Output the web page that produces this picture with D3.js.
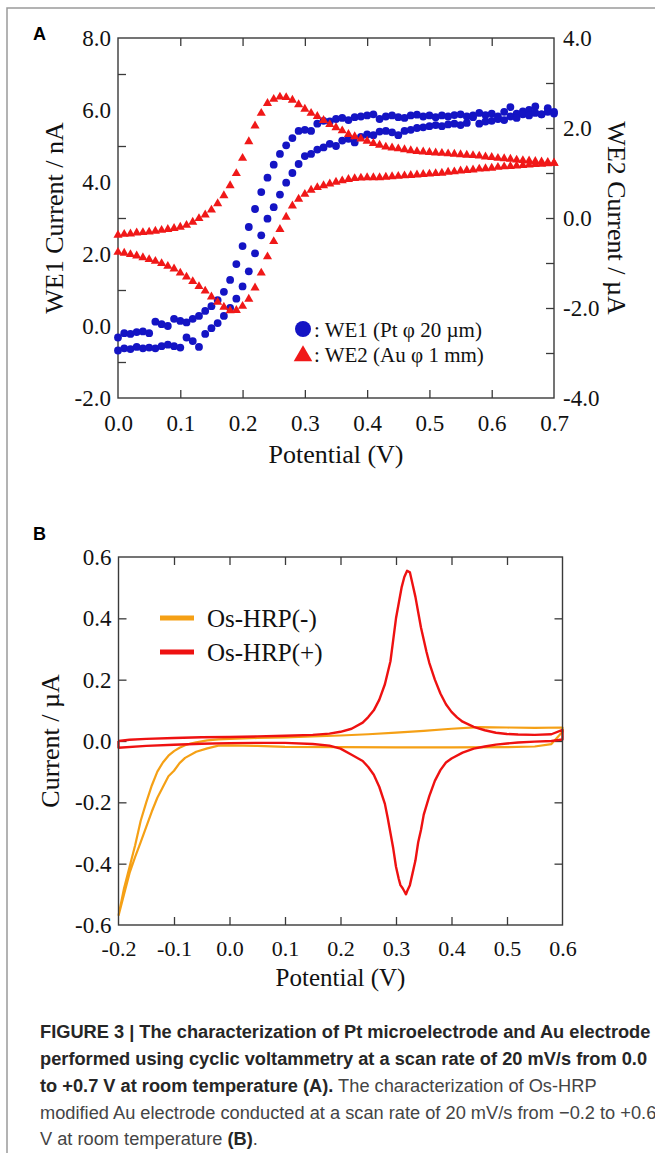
<!DOCTYPE html>
<html><head><meta charset="utf-8">
<script src="https://cdn.jsdelivr.net/npm/d3@7/dist/d3.min.js"></script>
<style>body{margin:0;background:#fff}svg{display:block}</style>
</head><body><div id="chart"></div>
<script>
// ---------- Panel A data ----------
const aPotential = [0.00,0.01,0.02,0.03,0.04,0.05,0.06,0.07,0.08,0.09,0.10,0.11,0.12,0.13,0.14,0.15,0.16,0.17,0.18,0.19,0.20,0.21,0.22,0.23,0.24,0.25,0.26,0.27,0.28,0.29,0.30,0.31,0.32,0.33,0.34,0.35,0.36,0.37,0.38,0.39,0.40,0.41,0.42,0.43,0.44,0.45,0.46,0.47,0.48,0.49,0.50,0.51,0.52,0.53,0.54,0.55,0.56,0.57,0.58,0.59,0.60,0.61,0.62,0.63,0.64,0.65,0.66,0.67,0.68,0.69,0.70];
const we1Upper = [-0.32,-0.20,-0.22,-0.17,-0.15,-0.20,0.12,0.05,0.00,0.20,0.14,0.10,0.20,0.28,0.42,0.55,0.72,0.95,1.28,1.72,2.22,2.75,3.25,3.72,4.12,4.48,4.78,5.02,5.22,5.42,5.45,5.42,5.62,5.70,5.68,5.75,5.78,5.72,5.80,5.82,5.85,5.88,5.75,5.82,5.85,5.80,5.78,5.85,5.87,5.82,5.85,5.80,5.85,5.82,5.86,5.88,5.82,5.85,5.92,5.86,5.90,5.82,5.95,6.08,5.90,5.96,6.00,6.10,5.88,6.05,5.95];
const we1Lower = [-0.68,-0.62,-0.64,-0.58,-0.62,-0.60,-0.62,-0.56,-0.52,-0.56,-0.60,-0.32,-0.42,-0.58,-0.22,-0.06,0.08,0.28,0.50,0.76,1.10,1.52,2.02,2.52,2.98,3.30,3.65,3.98,4.25,4.50,4.72,4.78,4.90,4.96,5.06,5.00,5.15,5.20,5.10,5.25,5.32,5.30,5.40,5.42,5.38,5.30,5.42,5.45,5.50,5.52,5.55,5.58,5.55,5.60,5.62,5.58,5.64,5.80,5.62,5.68,5.70,5.75,5.72,5.82,5.78,5.88,5.85,5.92,5.88,5.95,5.90];
const we2Upper = [-0.38,-0.36,-0.35,-0.33,-0.32,-0.31,-0.29,-0.27,-0.25,-0.23,-0.20,-0.16,-0.09,-0.01,0.07,0.18,0.32,0.50,0.72,0.99,1.33,1.70,2.05,2.33,2.55,2.64,2.69,2.68,2.62,2.52,2.42,2.33,2.26,2.17,2.08,2.01,1.94,1.86,1.81,1.76,1.71,1.66,1.62,1.58,1.56,1.54,1.52,1.50,1.48,1.47,1.46,1.45,1.44,1.43,1.42,1.41,1.40,1.39,1.38,1.36,1.35,1.33,1.32,1.31,1.29,1.28,1.27,1.26,1.25,1.24,1.22];
const we2Lower = [-0.76,-0.78,-0.81,-0.84,-0.88,-0.92,-0.96,-1.01,-1.07,-1.13,-1.22,-1.31,-1.41,-1.52,-1.62,-1.75,-1.87,-1.98,-2.06,-2.05,-1.96,-1.80,-1.55,-1.22,-0.86,-0.52,-0.25,0.02,0.27,0.42,0.53,0.62,0.68,0.72,0.76,0.80,0.83,0.86,0.88,0.89,0.90,0.90,0.90,0.91,0.92,0.93,0.94,0.95,0.96,0.97,0.98,0.99,1.00,1.02,1.03,1.05,1.06,1.07,1.09,1.10,1.11,1.13,1.14,1.15,1.16,1.17,1.18,1.19,1.20,1.21,1.22];
const aXTickLabels = [0.0,0.1,0.2,0.3,0.4,0.5,0.6,0.7];
const aLeftLabels = [8,6,4,2,0,-2];
const aLeftTicks = [7,5,3,1,-1];
const aRightLabels = [4,2,0,-2,-4];
const aRightTicks = [3,2,1,0,-1,-2,-3];
const aLegend = [": WE1 (Pt \u03c6 20 \u00b5m)", ": WE2 (Au \u03c6 1 mm)"];

// ---------- Panel B data ----------
const osMinusPotential = [-0.20,-0.19,-0.18,-0.17,-0.16,-0.15,-0.14,-0.13,-0.12,-0.11,-0.10,-0.09,-0.08,-0.07,-0.06,-0.05,-0.04,-0.02,0.00,0.05,0.10,0.15,0.20,0.25,0.30,0.35,0.40,0.45,0.50,0.55,0.60,
  0.60,0.58,0.55,0.50,0.40,0.30,0.20,0.10,0.05,0.00,-0.02,-0.04,-0.06,-0.08,-0.09,-0.10,-0.11,-0.12,-0.13,-0.14,-0.15,-0.16,-0.17,-0.18,-0.19,-0.20];
const osMinusCurrent = [-0.57,-0.48,-0.41,-0.34,-0.26,-0.20,-0.145,-0.10,-0.07,-0.048,-0.033,-0.022,-0.014,-0.008,-0.004,-0.001,0.002,0.005,0.007,0.010,0.012,0.015,0.018,0.022,0.027,0.033,0.040,0.045,0.044,0.043,0.044,
  0.030,-0.010,-0.018,-0.020,-0.021,-0.021,-0.020,-0.019,-0.016,-0.014,-0.015,-0.024,-0.035,-0.055,-0.072,-0.097,-0.115,-0.150,-0.185,-0.230,-0.280,-0.330,-0.378,-0.430,-0.500,-0.57];
const osPlusPotential = [-0.20,-0.18,-0.15,-0.10,-0.05,0.00,0.05,0.10,0.15,0.18,0.20,0.22,0.24,0.25,0.26,0.27,0.28,0.29,0.295,0.30,0.305,0.31,0.315,0.32,0.325,0.33,0.335,0.34,0.345,0.35,0.355,0.36,0.37,0.38,0.39,0.40,0.41,0.42,0.44,0.46,0.48,0.50,0.52,0.55,0.58,0.60,
  0.60,0.58,0.55,0.52,0.50,0.48,0.46,0.44,0.42,0.40,0.39,0.38,0.37,0.36,0.35,0.345,0.34,0.335,0.33,0.325,0.32,0.318,0.315,0.312,0.308,0.305,0.30,0.295,0.29,0.285,0.28,0.27,0.26,0.25,0.24,0.22,0.20,0.18,0.15,0.10,0.05,0.00,-0.05,-0.10,-0.15,-0.20,-0.20];
const osPlusCurrent = [0.000,0.004,0.007,0.010,0.012,0.013,0.015,0.017,0.020,0.024,0.030,0.040,0.060,0.078,0.100,0.135,0.185,0.26,0.33,0.40,0.45,0.50,0.535,0.555,0.55,0.51,0.47,0.42,0.37,0.33,0.29,0.255,0.20,0.155,0.12,0.095,0.077,0.063,0.046,0.035,0.027,0.023,0.021,0.020,0.022,0.036,
  0.005,0.000,-0.002,-0.005,-0.008,-0.012,-0.018,-0.025,-0.038,-0.057,-0.070,-0.095,-0.13,-0.18,-0.24,-0.29,-0.33,-0.39,-0.43,-0.47,-0.49,-0.50,-0.49,-0.48,-0.47,-0.45,-0.41,-0.35,-0.30,-0.25,-0.205,-0.15,-0.11,-0.085,-0.065,-0.045,-0.025,-0.015,-0.010,-0.006,-0.006,-0.007,-0.009,-0.012,-0.016,-0.022,0.000];
const bXTickLabels = [-0.2,-0.1,0.0,0.1,0.2,0.3,0.4,0.5,0.6];
const bXTicks = [-0.1,0.0,0.1,0.2,0.3,0.4,0.5];
const bYTickLabels = [0.6,0.4,0.2,0.0,-0.2,-0.4,-0.6];
const bYTicks = [0.4,0.2,0.0,-0.2,-0.4];
const bLegend = ["Os-HRP(-)","Os-HRP(+)"];

const captionLines = [
  [["FIGURE 3 | The characterization of Pt microelectrode and Au electrode", true]],
  [["performed using cyclic voltammetry at a scan rate of 20 mV/s from 0.0", true]],
  [["to +0.7 V at room temperature (A).", true], [" The characterization of Os-HRP", false]],
  [["modified Au electrode conducted at a scan rate of 20 mV/s from \u22120.2 to +0.6", false]],
  [["V at room temperature ", false], ["(B)", true], [".", false]]
];

// ---------- Drawing ----------
const W = 655, H = 1153;
const serif = "'Liberation Serif','Times New Roman',serif";
const sans = "'Liberation Sans',Arial,sans-serif";
const blue = "#1414c4", red = "#f01818", orange = "#f5a015", red2 = "#ee1111";
const axisColor = "#3a3a3a";
const f1 = d => (d < 0 ? "-" : "") + Math.abs(d).toFixed(1);

const svg = d3.select("#chart").append("svg").attr("width", W).attr("height", H);
svg.append("rect").attr("width", W).attr("height", H).attr("fill", "#fff");
svg.append("rect").attr("x", 7).attr("y", 8).attr("width", 720).attr("height", 1300)
  .attr("fill", "none").attr("stroke", "#9a9a9a").attr("stroke-width", 1.5);

function styleAxis(g, size) {
  g.select(".domain").remove();
  g.selectAll(".tick line").attr("stroke", axisColor).attr("stroke-width", 1.3);
  g.selectAll("text").attr("font-family", serif).attr("font-size", size).attr("fill", "#111");
}

// ===== Panel A =====
const ax = {l: 118, r: 554, t: 38, b: 398};
const xA = d3.scaleLinear().domain([0, 0.7]).range([ax.l, ax.r]);
const yAL = d3.scaleLinear().domain([-2, 8]).range([ax.b, ax.t]);
const yAR = d3.scaleLinear().domain([-4, 4]).range([ax.b, ax.t]);

svg.append("text").attr("x", 33).attr("y", 40).text("A")
  .attr("font-family", sans).attr("font-weight", "bold").attr("font-size", 18);

const gA = svg.append("g");
gA.append("g").attr("transform", `translate(0,${ax.b})`)
  .call(d3.axisBottom(xA).tickValues(aXTickLabels.slice(1, -1)).tickSizeInner(-8).tickSizeOuter(0).tickFormat(""))
  .call(g => styleAxis(g, 23));
gA.append("g").attr("transform", `translate(0,${ax.b})`)
  .call(d3.axisBottom(xA).tickValues(aXTickLabels).tickSize(0).tickPadding(0).tickFormat(f1))
  .call(g => styleAxis(g, 23))
  .call(g => g.selectAll("text").attr("y", 25).attr("dy", "0.35em"));
gA.append("g").attr("transform", `translate(0,${ax.t})`)
  .call(d3.axisTop(xA).tickValues(aXTickLabels.slice(1, -1)).tickSizeInner(-8).tickSizeOuter(0).tickFormat(""))
  .call(g => styleAxis(g, 23));
gA.append("g").attr("transform", `translate(${ax.l},0)`)
  .call(d3.axisLeft(yAL).tickValues(aLeftTicks).tickSizeInner(-8).tickSizeOuter(0).tickFormat(""))
  .call(g => styleAxis(g, 23));
gA.append("g").attr("transform", `translate(${ax.l},0)`)
  .call(d3.axisLeft(yAL).tickValues(aLeftLabels).tickSize(0).tickPadding(7).tickFormat(f1))
  .call(g => styleAxis(g, 23));
gA.append("g").attr("transform", `translate(${ax.r},0)`)
  .call(d3.axisRight(yAR).tickValues(aRightTicks).tickSizeInner(-8).tickSizeOuter(0).tickFormat(""))
  .call(g => styleAxis(g, 23));
gA.append("g").attr("transform", `translate(${ax.r},0)`)
  .call(d3.axisRight(yAR).tickValues(aRightLabels).tickSize(0).tickPadding(9).tickFormat(f1))
  .call(g => styleAxis(g, 23));
gA.append("rect").attr("x", ax.l).attr("y", ax.t).attr("width", ax.r - ax.l).attr("height", ax.b - ax.t)
  .attr("fill", "none").attr("stroke", axisColor).attr("stroke-width", 1.4);

// markers
const we1Pts = aPotential.map((p, i) => [p, we1Upper[i]]).concat(aPotential.map((p, i) => [p, we1Lower[i]]));
gA.append("g").selectAll("circle").data(we1Pts).join("circle")
  .attr("cx", d => xA(d[0])).attr("cy", d => yAL(d[1])).attr("r", 3.9).attr("fill", blue);
const we2Pts = aPotential.map((p, i) => [p, we2Upper[i]]).concat(aPotential.map((p, i) => [p, we2Lower[i]]));
const tri = d3.symbol(d3.symbolTriangle, 36);
gA.append("g").selectAll("path").data(we2Pts).join("path")
  .attr("d", tri).attr("transform", d => `translate(${xA(d[0])},${yAR(d[1])})`).attr("fill", red);

// legend A
const lgA = gA.append("g");
lgA.append("circle").attr("cx", 303).attr("cy", 329).attr("r", 8).attr("fill", blue);
lgA.append("path").attr("d", d3.symbol(d3.symbolTriangle, 150)).attr("transform", "translate(303,356)").attr("fill", red);
lgA.selectAll("text").data(aLegend).join("text")
  .attr("x", 314).attr("y", (d, i) => 330 + i * 25).attr("dy", "0.35em").text(d => d)
  .attr("font-family", serif).attr("font-size", 21).attr("fill", "#111");

// titles A
svg.append("text").attr("transform", `translate(54,${(ax.t + ax.b) / 2}) rotate(-90)`)
  .attr("text-anchor", "middle").attr("dy", "0.35em").text("WE1 Current / nA")
  .attr("font-family", serif).attr("font-size", 26).attr("fill", "#111");
svg.append("text").attr("transform", `translate(617,${(ax.t + ax.b) / 2}) rotate(90)`)
  .attr("text-anchor", "middle").attr("dy", "0.35em").text("WE2 Current / \u00b5A")
  .attr("font-family", serif).attr("font-size", 26).attr("fill", "#111");
svg.append("text").attr("x", (ax.l + ax.r) / 2).attr("y", 454).attr("dy", "0.35em")
  .attr("text-anchor", "middle").text("Potential (V)")
  .attr("font-family", serif).attr("font-size", 26).attr("fill", "#111");

// ===== Panel B =====
const bx = {l: 118.5, r: 562.5, t: 557, b: 925};
const xB = d3.scaleLinear().domain([-0.2, 0.6]).range([bx.l, bx.r]);
const yB = d3.scaleLinear().domain([-0.6, 0.6]).range([bx.b, bx.t]);

svg.append("text").attr("x", 33).attr("y", 540).text("B")
  .attr("font-family", sans).attr("font-weight", "bold").attr("font-size", 18);

const gB = svg.append("g");
gB.append("g").attr("transform", `translate(0,${bx.b})`)
  .call(d3.axisBottom(xB).tickValues(bXTicks).tickSizeInner(-8).tickSizeOuter(0).tickFormat(""))
  .call(g => styleAxis(g, 23));
gB.append("g").attr("transform", `translate(0,${bx.b})`)
  .call(d3.axisBottom(xB).tickValues(bXTickLabels).tickSize(0).tickPadding(0).tickFormat(f1))
  .call(g => styleAxis(g, 22))
  .call(g => g.selectAll("text").attr("y", 23).attr("dy", "0.35em"));
gB.append("g").attr("transform", `translate(0,${bx.t})`)
  .call(d3.axisTop(xB).tickValues(bXTicks).tickSizeInner(-8).tickSizeOuter(0).tickFormat(""))
  .call(g => styleAxis(g, 23));
gB.append("g").attr("transform", `translate(${bx.l},0)`)
  .call(d3.axisLeft(yB).tickValues(bYTicks).tickSizeInner(-8).tickSizeOuter(0).tickFormat(""))
  .call(g => styleAxis(g, 23));
gB.append("g").attr("transform", `translate(${bx.l},0)`)
  .call(d3.axisLeft(yB).tickValues(bYTickLabels).tickSize(0).tickPadding(7).tickFormat(f1))
  .call(g => styleAxis(g, 23));
gB.append("g").attr("transform", `translate(${bx.r},0)`)
  .call(d3.axisRight(yB).tickValues(bYTicks).tickSizeInner(-8).tickSizeOuter(0).tickFormat(""))
  .call(g => styleAxis(g, 23));

const line = d3.line().x(d => xB(d[0])).y(d => yB(d[1]));
gB.append("path").datum(osMinusPotential.map((p, i) => [p, osMinusCurrent[i]]))
  .attr("d", line).attr("fill", "none").attr("stroke", orange).attr("stroke-width", 2.2).attr("stroke-linejoin", "round");
gB.append("path").datum(osPlusPotential.map((p, i) => [p, osPlusCurrent[i]]))
  .attr("d", line).attr("fill", "none").attr("stroke", red2).attr("stroke-width", 2.4).attr("stroke-linejoin", "round");

gB.append("rect").attr("x", bx.l).attr("y", bx.t).attr("width", bx.r - bx.l).attr("height", bx.b - bx.t)
  .attr("fill", "none").attr("stroke", axisColor).attr("stroke-width", 1.4);

// legend B
const lgB = gB.append("g");
const bCols = [orange, red2];
bLegend.forEach((t, i) => {
  const y = 618 + i * 34;
  lgB.append("line").attr("x1", 160).attr("x2", 194).attr("y1", y).attr("y2", y)
    .attr("stroke", bCols[i]).attr("stroke-width", 5);
  lgB.append("text").attr("x", 207).attr("y", y).attr("dy", "0.35em").text(t)
    .attr("font-family", serif).attr("font-size", 25).attr("fill", "#111");
});

// titles B
svg.append("text").attr("transform", `translate(50,${(bx.t + bx.b) / 2}) rotate(-90)`)
  .attr("text-anchor", "middle").attr("dy", "0.35em").text("Current / \u00b5A")
  .attr("font-family", serif).attr("font-size", 26).attr("fill", "#111");
svg.append("text").attr("x", (bx.l + bx.r) / 2).attr("y", 977).attr("dy", "0.35em")
  .attr("text-anchor", "middle").text("Potential (V)")
  .attr("font-family", serif).attr("font-size", 25).attr("fill", "#111");

// ===== Caption =====
const capBase = [1038, 1065, 1092, 1119, 1145];
let capScale = null;
captionLines.forEach((parts, i) => {
  const t = svg.append("text").attr("x", 0).attr("y", 0)
    .attr("font-family", sans).attr("font-size", 18.5);
  parts.forEach(([s, b]) => {
    t.append("tspan").text(s).attr("font-weight", b ? "bold" : "normal").attr("fill", b ? "#262626" : "#444")
      .style("white-space", "pre");
  });
  t.style("white-space", "pre");
  if (capScale === null) capScale = 611 / t.node().getComputedTextLength();
  t.attr("transform", `translate(40,${capBase[i]}) scale(${capScale},1)`);
});
</script></body></html>
